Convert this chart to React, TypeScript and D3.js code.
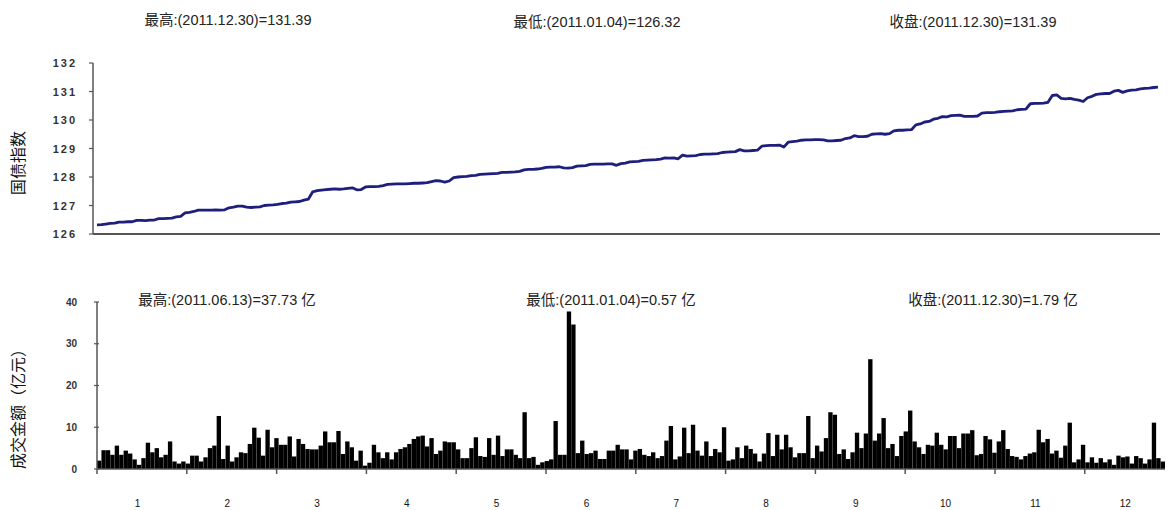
import React from 'react';
import * as d3 from 'd3';

// 国债指数 (daily close, 2011)
const indexValues: number[] = [
  126.32, 126.33, 126.35, 126.37, 126.38, 126.42, 126.42, 126.43, 126.43,
  126.48, 126.48, 126.47, 126.49, 126.49, 126.54, 126.54, 126.55, 126.56,
  126.60, 126.62, 126.74, 126.76, 126.79, 126.84, 126.84, 126.84, 126.84,
  126.85, 126.84, 126.85, 126.92, 126.94, 126.98, 126.98, 126.94, 126.93,
  126.94, 126.95, 127.00, 127.01, 127.02, 127.04, 127.07, 127.08, 127.12,
  127.13, 127.14, 127.19, 127.22, 127.48, 127.52, 127.54, 127.56, 127.57,
  127.58, 127.57, 127.58, 127.60, 127.62, 127.55, 127.56, 127.65, 127.66,
  127.66, 127.67, 127.70, 127.74, 127.75, 127.76, 127.76, 127.76, 127.77,
  127.78, 127.78, 127.79, 127.80, 127.84, 127.87, 127.86, 127.82, 127.86,
  127.98, 128.00, 128.01, 128.02, 128.05, 128.06, 128.09, 128.10, 128.11,
  128.12, 128.13, 128.16, 128.16, 128.17, 128.18, 128.20, 128.25, 128.27,
  128.27, 128.28, 128.30, 128.34, 128.35, 128.35, 128.36, 128.32, 128.31,
  128.33, 128.38, 128.39, 128.40, 128.44, 128.45, 128.45, 128.45, 128.46,
  128.46, 128.41, 128.47, 128.49, 128.53, 128.54, 128.55, 128.58, 128.59,
  128.60, 128.61, 128.63, 128.67, 128.66, 128.67, 128.64, 128.77, 128.73,
  128.74, 128.75, 128.79, 128.80, 128.80, 128.81, 128.82, 128.86, 128.87,
  128.88, 128.89, 128.96, 128.92, 128.92, 128.93, 128.94, 129.08, 129.10,
  129.11, 129.11, 129.12, 129.05, 129.22, 129.24, 129.26, 129.29, 129.30,
  129.30, 129.31, 129.31, 129.30, 129.27, 129.27, 129.28, 129.29, 129.35,
  129.37, 129.45, 129.42, 129.42, 129.43, 129.50, 129.51, 129.52, 129.50,
  129.52, 129.62, 129.64, 129.64, 129.65, 129.66, 129.83, 129.86, 129.93,
  129.95, 130.03, 130.06, 130.12, 130.11, 130.15, 130.16, 130.17, 130.13,
  130.13, 130.13, 130.14, 130.24, 130.26, 130.26, 130.27, 130.29, 130.30,
  130.31, 130.32, 130.36, 130.37, 130.38, 130.57, 130.58, 130.58, 130.59,
  130.62, 130.86, 130.88, 130.76, 130.74, 130.76, 130.72, 130.70, 130.65,
  130.78, 130.83, 130.90, 130.92, 130.93, 130.93, 131.01, 131.04, 130.97,
  131.02, 131.05, 131.06, 131.09, 131.11, 131.12, 131.14, 131.15,
];

// 成交金额 (亿元), daily
const volumeValues: number[] = [
  2.0, 4.5, 4.5, 3.4, 5.6, 3.4, 4.4, 3.7, 2.3, 1.0, 2.6, 6.3, 4.0, 5.0, 2.8, 3.4, 6.6, 1.8, 1.3, 1.8,
  1.3, 3.2, 3.2, 1.8, 2.8, 5.0, 5.6, 12.7, 2.4, 5.6, 1.8, 2.8, 4.0, 3.8, 6.0, 9.9, 7.5, 3.2, 9.4, 5.2,
  7.4, 5.8, 5.8, 7.8, 3.0, 7.2, 6.0, 4.8, 4.7, 4.7, 5.6, 9.0, 6.4, 6.4, 9.1, 3.6, 6.6, 5.2, 2.0, 4.4,
  0.8, 1.5, 5.8, 4.0, 2.6, 4.0, 2.3, 4.0, 4.8, 5.2, 6.0, 7.2, 7.8, 8.0, 5.4, 7.4, 3.6, 4.4, 6.6, 6.4,
  6.4, 4.7, 2.6, 2.6, 5.0, 7.6, 3.1, 2.9, 7.4, 3.4, 8.0, 3.1, 4.7, 4.7, 3.4, 2.6, 13.6, 2.6, 2.9, 1.0,
  1.6, 1.9, 2.3, 11.5, 3.4, 3.4, 37.73, 34.6, 3.8, 6.8, 3.6, 3.8, 4.4, 2.4, 2.4, 4.4, 4.4, 5.8, 4.7, 4.7,
  2.3, 4.4,
  4.8, 3.4, 3.1, 4.0, 2.6, 3.1, 6.8, 10.3, 2.3, 3.0, 9.9, 3.8, 10.6, 4.4, 3.2, 6.6, 3.1, 4.8, 4.0, 10.0,
  2.0, 2.3, 5.2, 2.6, 5.6, 4.8, 3.7, 1.8, 3.7, 8.6, 3.1, 8.2, 4.7, 8.2, 5.2, 2.8, 3.8, 3.8, 12.7, 2.6,
  5.6,
  4.2, 7.4, 13.6, 13.0, 3.6, 4.7, 2.4, 4.0, 8.7, 5.0, 8.5, 26.3, 6.8, 8.5, 12.2, 5.0, 6.0, 3.1, 7.9, 9.0,
  14.0, 6.6, 5.2, 3.6, 5.8, 5.6, 8.7, 5.8, 4.7, 7.9, 7.9, 5.0, 8.5, 8.5, 9.3, 3.3, 3.6, 7.9, 7.1, 3.9,
  6.6, 9.3, 4.8, 3.1, 2.9, 2.3, 3.1, 3.7, 4.0, 9.4, 6.4, 7.2, 3.7, 4.4, 2.7, 5.6, 11.1, 1.6, 2.3, 5.8,
  1.6, 2.8, 1.5, 2.6, 1.6, 2.3, 1.0, 3.2, 2.8, 3.0, 1.3, 3.1, 2.6, 1.3, 2.3, 11.1, 2.6, 1.79,
];

const monthLabels = ['1', '2', '3', '4', '5', '6', '7', '8', '9', '10', '11', '12'];
const indexTicks = [126, 127, 128, 129, 130, 131, 132];
const volumeTicks = [0, 10, 20, 30, 40];

const indexTitles = ['最高:(2011.12.30)=131.39', '最低:(2011.01.04)=126.32', '收盘:(2011.12.30)=131.39'];
const volumeTitles = ['最高:(2011.06.13)=37.73 亿', '最低:(2011.01.04)=0.57 亿', '收盘:(2011.12.30)=1.79 亿'];

const W = 1169;
const H = 510;
const txtFont = '"Liberation Sans", Arial, "Noto Sans CJK SC", sans-serif';
const cjkFont = '"Noto Sans CJK SC", sans-serif';

export default function App() {
  // top panel
  const top = { left: 93, right: 1160, top: 63, bottom: 234 };
  const xLine = d3.scaleLinear().domain([0, indexValues.length - 1]).range([97, 1158]);
  const yLine = d3.scaleLinear().domain([126, 132]).range([top.bottom, top.top]);
  const linePath = d3.line<number>().x((_, i) => xLine(i)).y((d) => yLine(d))(indexValues) || '';

  // bottom panel
  const bot = { left: 97, right: 1165, top: 302, bottom: 469 };
  const xBar = d3.scaleBand<number>().domain(d3.range(volumeValues.length)).range([bot.left, bot.right]).paddingInner(0.02);
  const yBar = d3.scaleLinear().domain([0, 40]).range([bot.bottom, bot.top]);
  const xMonth = d3.scaleLinear().domain([0, 12]).range([97, 1174.6]);

  const topTitleX = [228, 597, 973];
  const botTitleX = [227, 611, 993];

  return (
    <svg width={W} height={H} style={{ position: 'absolute', left: 0, top: 0, background: '#fff' }}>
      <rect x={0} y={0} width={W} height={H} fill="#fff" />
      {/* top titles */}
      {indexTitles.map((t, i) => (
        <text key={t} x={topTitleX[i]} y={i === 0 ? 25 : 27} textAnchor="middle" fontSize={14.5} fontFamily={txtFont} fill="#222">
          {t}
        </text>
      ))}
      {/* top y label */}
      <text transform={`translate(24,163) rotate(-90)`} textAnchor="middle" fontSize={16} fontFamily={cjkFont} fill="#111">
        国债指数
      </text>
      {/* top axes */}
      <line x1={top.left} x2={top.left} y1={top.top} y2={top.bottom} stroke="#555" strokeWidth={1.5} />
      <line x1={top.left} x2={top.right} y1={top.bottom} y2={top.bottom} stroke="#555" strokeWidth={2} />
      {indexTicks.map((t) => (
        <g key={t}>
          <line x1={top.left - 4} x2={top.left} y1={yLine(t)} y2={yLine(t)} stroke="#555" strokeWidth={1.2} />
          <text x={77} y={yLine(t) + 4} textAnchor="end" fontSize={11} fontWeight="bold" letterSpacing={2} fontFamily={txtFont} fill="#333">
            {t}
          </text>
        </g>
      ))}
      <path d={linePath} fill="none" stroke="#1e1e7c" strokeWidth={2.8} strokeLinejoin="round" />

      {/* bottom titles */}
      {volumeTitles.map((t, i) => (
        <text key={t} x={botTitleX[i]} y={305} textAnchor="middle" fontSize={14.5} fontFamily={txtFont} fill="#222">
          {t}
        </text>
      ))}
      <text transform={`translate(24,405) rotate(-90)`} textAnchor="middle" fontSize={16} fontFamily={cjkFont} fill="#111">
        成交金额（亿元）
      </text>
      {/* bars */}
      {volumeValues.map((v, i) => (
        <rect key={i} x={xBar(i)} y={yBar(v)} width={xBar.bandwidth()} height={yBar(0) - yBar(v)} fill="#000" />
      ))}
      {/* bottom axes */}
      <line x1={bot.left} x2={bot.left} y1={bot.top} y2={bot.bottom} stroke="#555" strokeWidth={1.5} />
      <line x1={bot.left} x2={bot.right} y1={bot.bottom} y2={bot.bottom} stroke="#555" strokeWidth={1.5} />
      {volumeTicks.map((t) => (
        <g key={t}>
          <line x1={bot.left - 3} x2={bot.left + 2} y1={yBar(t)} y2={yBar(t)} stroke="#555" strokeWidth={1.2} />
          <text x={77} y={yBar(t) + 3.5} textAnchor="end" fontSize={10} fontWeight="bold" fontFamily={txtFont} fill="#333">
            {t}
          </text>
        </g>
      ))}
      {monthLabels.map((m, i) => (
        <g key={m}>
          <line x1={xMonth(i)} x2={xMonth(i)} y1={bot.bottom} y2={bot.bottom + 5} stroke="#555" strokeWidth={1.5} />
          <text x={xMonth(i + 0.45)} y={507} textAnchor="middle" fontSize={10} fontFamily={txtFont} fill="#111">
            {m}
          </text>
        </g>
      ))}
    </svg>
  );
}
